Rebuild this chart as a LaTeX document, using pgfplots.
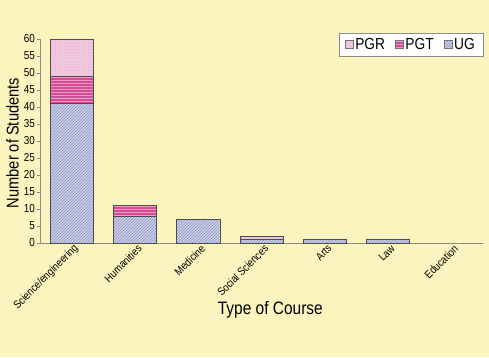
\documentclass[border=0pt]{standalone}
\usepackage{fontspec}
\setmainfont[FakeStretch=0.86]{Liberation Sans}
\usepackage{pgfplots}
\pgfplotsset{compat=1.18}
\usetikzlibrary{patterns}
\definecolor{bg}{HTML}{FBF4BE}
\definecolor{ugfill}{HTML}{CDD1EA}
\definecolor{ugline}{HTML}{8A92BC}
\definecolor{pgtfill}{HTML}{D64C94}
\definecolor{pgtline}{HTML}{F39AC6}
\definecolor{pgrfill}{HTML}{F3CBE0}
\definecolor{pgrline}{HTML}{E2A6CA}
\definecolor{axgray}{HTML}{8C8C8C}
\begin{document}
\begin{tikzpicture}
\fill[bg] (0,0) rectangle (489pt,357pt);
\path[use as bounding box] (0,0) rectangle (489pt,357pt);
\begin{axis}[
  at={(40pt,114pt)}, anchor=south west,
  scale only axis, width=443pt, height=204pt,
  ybar stacked, bar width=0.68,
  xmin=-0.5, xmax=6.5, ymin=0, ymax=60,
  axis x line=bottom, axis y line=left,
  axis line style={axgray, -},
  xtick={0,...,6},
  xticklabels={Science/engineering,Humanities,Medicine,Social Sciences,Arts,Law,Education},
  x tick label style={rotate=45, anchor=east, font=\fontsize{11}{12}\selectfont, inner sep=1pt, yshift=-4pt, xshift=4pt},
  major x tick style={draw=none},
  extra x ticks={0.5,1.5,...,6.5},
  extra x tick labels={},
  extra x tick style={tick style={axgray}, major tick length=4pt, tick align=outside},
  ytick={0,5,...,60},
  y tick label style={font=\fontsize{11.5}{12}\selectfont, inner sep=2pt},
  tick align=outside, major tick length=3pt,
  tick style={axgray},
  /pgf/number format/assume math mode=true,
  xlabel={Type of Course},
  xlabel style={at={(axis description cs:0.52,-0.33)}, anchor=center, font=\fontsize{18}{20}\selectfont},
  ylabel={Number of Students},
  ylabel style={at={(axis description cs:-0.062,0.49)}, anchor=center, font=\fontsize{17}{19}\selectfont},
  legend columns=3, reverse legend,
  legend style={at={(1,1.03)}, anchor=north east, fill=white, draw=axgray,
    font=\fontsize{16}{18}\selectfont, /tikz/every even column/.append style={column sep=8pt},
    inner xsep=6pt, inner ysep=3pt},
  legend image code/.code={\draw[#1, draw=black!55] (0pt,-4pt) rectangle (8pt,4pt);},
]
\addplot[draw=black!70, fill=ugfill, postaction={pattern=north east lines, pattern color=ugline}]
  coordinates {(0,41) (1,8) (2,7) (3,1) (4,1) (5,1) (6,0)};
\addplot[draw=black!70, fill=pgtfill, postaction={pattern=horizontal lines, pattern color=pgtline}]
  coordinates {(0,8) (1,3) (2,0) (3,0) (4,0) (5,0) (6,0)};
\addplot[draw=black!70, fill=pgrfill, postaction={pattern=crosshatch dots, pattern color=pgrline}]
  coordinates {(0,11) (1,0) (2,0) (3,1) (4,0) (5,0) (6,0)};
\legend{UG,PGT,PGR}
\end{axis}
\end{tikzpicture}
\end{document}
